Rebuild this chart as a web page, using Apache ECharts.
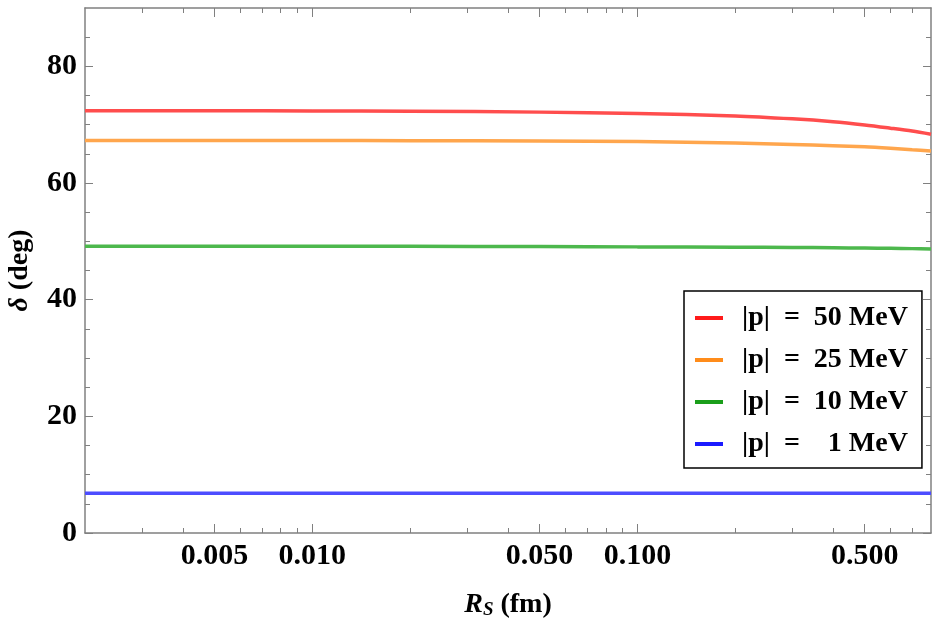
<!DOCTYPE html>
<html>
<head>
<meta charset="utf-8">
<script src="https://cdn.jsdelivr.net/npm/echarts@6/dist/echarts.min.js"></script>
<style>
  html, body { margin: 0; padding: 0; background: #fff; }
  #main { width: 938px; height: 625px; }
</style>
</head>
<body>
<div id="main"></div>
<script>
var rsValues = [0.002, 0.005, 0.01, 0.02, 0.05, 0.1, 0.2, 0.3, 0.4, 0.5, 0.6, 0.7, 0.8];
// phase shifts (deg)
var delta50 = [72.4, 72.4, 72.35, 72.3, 72.15, 71.9, 71.5, 71.0, 70.5, 69.95, 69.4, 68.9, 68.35];
var delta25 = [67.3, 67.3, 67.3, 67.25, 67.2, 67.1, 66.85, 66.6, 66.4, 66.2, 65.95, 65.7, 65.5];
var delta10 = [49.15, 49.15, 49.15, 49.15, 49.1, 49.05, 49.0, 48.95, 48.9, 48.85, 48.8, 48.75, 48.7];
var delta1 = [6.8, 6.8, 6.8, 6.8, 6.8, 6.8, 6.8, 6.8, 6.8, 6.8, 6.8, 6.8, 6.8];

var seriesNames = ['|p|  =  50 MeV', '|p|  =  25 MeV', '|p|  =  10 MeV', '|p|  =    1 MeV'];

// tick labels
var xMajorTicks = [0.005, 0.01, 0.05, 0.1, 0.5];
var xMinorTicks = [0.003, 0.004, 0.006, 0.007, 0.008, 0.009, 0.02, 0.03, 0.04,
  0.06, 0.07, 0.08, 0.09, 0.2, 0.3, 0.4, 0.6, 0.7];
var yMajorTicks = [0, 20, 40, 60, 80];
var yMinorTicks = [5, 10, 15, 25, 30, 35, 45, 50, 55, 65, 70, 75, 85];

var lineColors = ['#ff4d4d', '#ffa64d', '#4db84d', '#4d4dff'];
var iconColors = ['#ff1a1a', '#ff8c1a', '#1a9e1a', '#1a1aff'];
var font = "'Liberation Serif', 'Times New Roman', serif";
var frameColor = '#808080';

function xAxis(pos, ticks, len, withLabels, withLine) {
  return {
    type: 'log',
    position: pos,
    min: 0.002,
    max: 0.8,
    axisLine: { show: withLine, onZero: false, lineStyle: { color: frameColor, width: 1.5 } },
    axisTick: { show: true, inside: true, length: len, customValues: ticks,
      lineStyle: { color: frameColor, width: 1 } },
    axisLabel: withLabels ? {
      show: true, customValues: ticks, margin: 8,
      fontFamily: font, fontWeight: 'bold', fontSize: 30, color: '#000',
      formatter: function (v) { return (+v).toFixed(3); }
    } : { show: false },
    splitLine: { show: false },
    minorTick: { show: false },
    name: withLabels ? '{i|R}{s|S} (fm)' : '',
    nameLocation: 'middle',
    nameGap: 56,
    nameTextStyle: {
      fontFamily: font, fontWeight: 'bold', fontSize: 28, color: '#000',
      rich: {
        i: { fontFamily: font, fontWeight: 'bold', fontStyle: 'italic', fontSize: 28, color: '#000' },
        s: { fontFamily: font, fontWeight: 'bold', fontStyle: 'italic', fontSize: 19, color: '#000', padding: [12, 0, 0, 0] }
      }
    }
  };
}

function yAxis(pos, ticks, len, withLabels, withLine) {
  return {
    type: 'value',
    position: pos,
    min: 0,
    max: 90,
    axisLine: { show: withLine, onZero: false, lineStyle: { color: frameColor, width: 1.5 } },
    axisTick: { show: true, inside: true, length: len, customValues: ticks,
      lineStyle: { color: frameColor, width: 1 } },
    axisLabel: withLabels ? {
      show: true, customValues: ticks, margin: 8,
      fontFamily: font, fontWeight: 'bold', fontSize: 30, color: '#000'
    } : { show: false },
    splitLine: { show: false },
    name: withLabels ? '{i|δ} (deg)' : '',
    nameLocation: 'middle',
    nameGap: 51,
    nameTextStyle: {
      fontFamily: font, fontWeight: 'bold', fontSize: 28, color: '#000',
      rich: {
        i: { fontFamily: font, fontStyle: 'italic', fontSize: 28, color: '#000' }
      }
    }
  };
}

function pairs(ys) {
  return rsValues.map(function (x, i) { return [x, ys[i]]; });
}

var chartDom = document.getElementById('main');
var myChart = echarts.init(chartDom);
var allDeltas = [delta50, delta25, delta10, delta1];

myChart.setOption({
  animation: false,
  backgroundColor: '#fff',
  grid: { left: 85, right: 7, top: 8, bottom: 92, outerBoundsMode: 'none' },
  xAxis: [
    xAxis('bottom', xMajorTicks, 9, true, true),
    xAxis('bottom', xMinorTicks, 5, false, false),
    xAxis('top', xMajorTicks, 9, false, true),
    xAxis('top', xMinorTicks, 5, false, false)
  ],
  yAxis: [
    yAxis('left', yMajorTicks, 8, true, true),
    yAxis('left', yMinorTicks, 5, false, false),
    yAxis('right', yMajorTicks, 8, false, true),
    yAxis('right', yMinorTicks, 5, false, false)
  ],
  legend: {
    orient: 'vertical',
    left: 684,
    top: 291,
    padding: [13, 14, 10, 11],
    itemWidth: 28,
    itemHeight: 4,
    itemGap: 14,
    icon: 'rect',
    backgroundColor: '#fff',
    borderColor: '#000',
    borderWidth: 1.5,
    textStyle: {
      fontFamily: font, fontWeight: 'bold', fontSize: 28, color: '#000',
      padding: [0, 0, 0, 14]
    },
    data: seriesNames.map(function (n, i) {
      return { name: n, itemStyle: { color: iconColors[i] } };
    })
  },
  series: allDeltas.map(function (ys, i) {
    return {
      name: seriesNames[i],
      type: 'line',
      xAxisIndex: 0,
      yAxisIndex: 0,
      data: pairs(ys),
      showSymbol: false,
      smooth: 0.3,
      color: lineColors[i],
      lineStyle: { width: 3.5, color: lineColors[i] }
    };
  })
});
</script>
</body>
</html>
